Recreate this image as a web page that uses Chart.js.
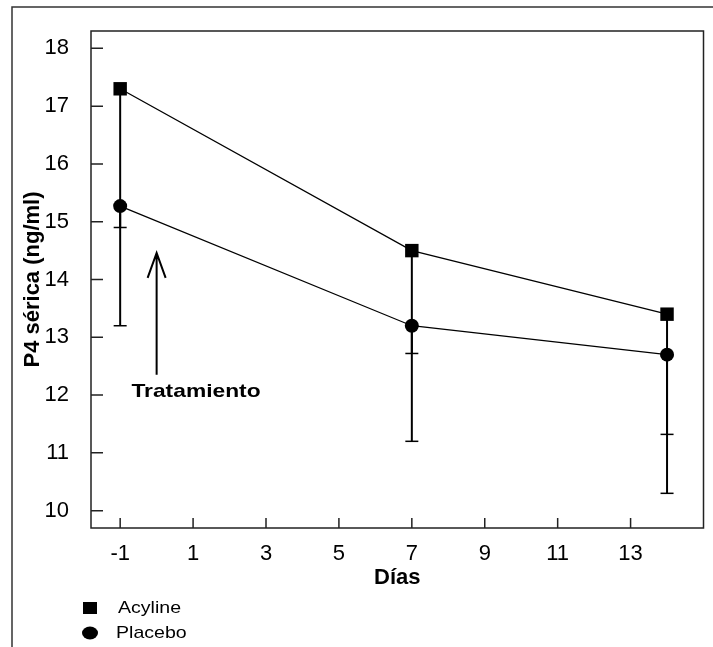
<!DOCTYPE html>
<html>
<head>
<meta charset="utf-8">
<script src="https://cdn.jsdelivr.net/npm/chart.js@4/dist/chart.umd.min.js"></script>
<style>
  html, body { margin: 0; padding: 0; background: #fff; }
  #wrap { width: 713px; height: 647px; }
</style>
</head>
<body>
<div id="wrap"><canvas id="chart" width="713" height="647"></canvas></div>
<script>
// data
const days = [-1, 7, 14];
const acyline = [17.3, 14.5, 13.4];
const acylineLow = [14.9, 12.72, 11.32];
const placebo = [15.27, 13.2, 12.7];
const placeboLow = [13.2, 11.2, 10.3];
const xTicks = [-1, 1, 3, 5, 7, 9, 11, 13];
const yTicks = [10, 11, 12, 13, 14, 15, 16, 17, 18];

// treatment arrow (day, from, to) and its label
const arrowDay = 0;
const arrowFrom = 12.35;
const arrowTo = 14.46;
const noteText = 'Tratamiento';
const noteDay = 1.08;
const noteValue = 12.06;

const FONT = "'Liberation Sans', Arial, sans-serif";

function stretchedText(ctx, text, x, y, sx, align) {
  ctx.save();
  ctx.translate(x, y);
  ctx.scale(sx, 1);
  ctx.textAlign = align;
  ctx.fillText(text, 0, 0);
  ctx.restore();
}

const decor = {
  id: 'decor',
  beforeDraw(chart) {
    const ctx = chart.ctx;
    ctx.save();
    ctx.strokeStyle = '#333';
    ctx.lineWidth = 1.5;
    ctx.beginPath();
    ctx.moveTo(12, 647);
    ctx.lineTo(12, 7);
    ctx.lineTo(713, 7);
    ctx.stroke();
    ctx.restore();
  },
  beforeDatasetsDraw(chart) {
    const ctx = chart.ctx;
    const xs = chart.scales.x, ys = chart.scales.y;
    ctx.save();
    ctx.strokeStyle = '#000';
    // error bars (lower side only)
    chart.data.datasets.forEach((ds) => {
      ds.data.forEach((p, j) => {
        const x = xs.getPixelForValue(p.x);
        const y1 = ys.getPixelForValue(p.y);
        const y2 = ys.getPixelForValue(ds.errLow[j]);
        ctx.lineWidth = 2;
        ctx.beginPath();
        ctx.moveTo(x, y1);
        ctx.lineTo(x, y2);
        ctx.stroke();
        ctx.lineWidth = 1.5;
        ctx.beginPath();
        ctx.moveTo(x - 6.5, y2);
        ctx.lineTo(x + 6.5, y2);
        ctx.stroke();
      });
    });
    // arrow
    const ax = xs.getPixelForValue(arrowDay);
    const aTop = ys.getPixelForValue(arrowTo);
    const aBot = ys.getPixelForValue(arrowFrom);
    ctx.lineWidth = 2;
    ctx.beginPath();
    ctx.moveTo(ax, aBot);
    ctx.lineTo(ax, aTop);
    ctx.moveTo(ax - 9, aTop + 25);
    ctx.lineTo(ax, aTop);
    ctx.lineTo(ax + 9, aTop + 25);
    ctx.stroke();
    ctx.fillStyle = '#000';
    ctx.font = 'bold 19px ' + FONT;
    ctx.textBaseline = 'middle';
    stretchedText(ctx, noteText, xs.getPixelForValue(noteDay), ys.getPixelForValue(noteValue), 1.2, 'center');
    ctx.restore();
  },
  afterDraw(chart) {
    const ctx = chart.ctx;
    const a = chart.chartArea;
    const xs = chart.scales.x, ys = chart.scales.y;
    ctx.save();
    ctx.strokeStyle = '#222';
    ctx.lineWidth = 1.5;
    ctx.strokeRect(a.left, a.top, a.right - a.left, a.bottom - a.top);
    ctx.beginPath();
    ys.ticks.forEach((t) => {
      const y = ys.getPixelForValue(t.value);
      ctx.moveTo(a.left, y);
      ctx.lineTo(a.left + 12, y);
    });
    xs.ticks.forEach((t) => {
      const x = xs.getPixelForValue(t.value);
      ctx.moveTo(x, a.bottom);
      ctx.lineTo(x, a.bottom - 10);
    });
    ctx.stroke();

    // legend
    ctx.fillStyle = '#000';
    ctx.font = '17px ' + FONT;
    ctx.textBaseline = 'middle';
    chart.data.datasets.forEach((ds, i) => {
      const cy = a.bottom + 80 + i * 25;
      const cx = a.left - 1;
      ctx.beginPath();
      if (ds.pointStyle === 'rect') {
        ctx.rect(cx - 7, cy - 6, 14, 12);
      } else {
        ctx.ellipse(cx, cy, 8, 6.5, 0, 0, Math.PI * 2);
      }
      ctx.fill();
      stretchedText(ctx, ds.label, cx + (i === 0 ? 28 : 26), cy, 1.15, 'left');
    });
    ctx.restore();
  }
};

const tickFont = { family: FONT, size: 22 };

new Chart(document.getElementById('chart'), {
  type: 'line',
  data: {
    datasets: [
      {
        label: 'Acyline',
        data: acyline,
        errLow: acylineLow,
        pointStyle: 'rect',
        pointRadius: 9.5,
      },
      {
        label: 'Placebo',
        data: placebo,
        errLow: placeboLow,
        pointStyle: 'circle',
        pointRadius: 7,
      },
    ].map((d) => ({
      ...d,
      data: d.data.map((v, j) => ({ x: days[j], y: v })),
      borderColor: '#000',
      backgroundColor: '#000',
      pointBackgroundColor: '#000',
      pointBorderColor: '#000',
      pointBorderWidth: 0,
      borderWidth: 1.3,
      tension: 0,
      clip: false,
    })),
  },
  options: {
    responsive: false,
    animation: false,
    layout: { padding: { top: 31, right: 9, bottom: 56, left: 0 } },
    plugins: { legend: { display: false }, tooltip: { enabled: false } },
    scales: {
      x: {
        type: 'linear',
        min: -1.8,
        max: 15,
        grid: { display: false },
        border: { display: false },
        afterBuildTicks: (s) => { s.ticks = xTicks.map((v) => ({ value: v })); },
        afterFit: (s) => { s.height = 63; },
        ticks: { color: '#000', font: tickFont, padding: 5 },
        title: {
          display: true,
          text: 'Días',
          color: '#000',
          font: { family: FONT, size: 22, weight: 'bold' },
          padding: { top: 0, bottom: 0 },
        },
      },
      y: {
        min: 9.7,
        max: 18.3,
        grid: { display: false },
        border: { display: false },
        afterBuildTicks: (s) => { s.ticks = yTicks.map((v) => ({ value: v })); },
        afterFit: (s) => { s.width = 91; },
        ticks: { color: '#000', font: tickFont, padding: 14 },
        title: {
          display: true,
          text: 'P4 sérica (ng/ml)',
          color: '#000',
          font: { family: FONT, size: 22, weight: 'bold' },
          padding: { top: 20, bottom: 0 },
        },
      },
    },
  },
  plugins: [decor],
});
</script>
</body>
</html>
